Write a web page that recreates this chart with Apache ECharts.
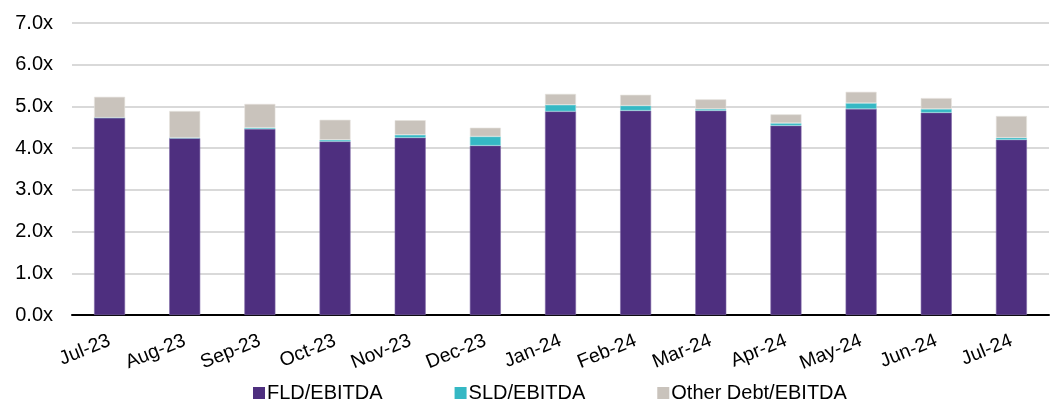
<!DOCTYPE html>
<html><head><meta charset="utf-8">
<script src="https://cdn.jsdelivr.net/npm/echarts@6/dist/echarts.min.js"></script>
<style>html,body{margin:0;padding:0;background:#fff}#c{width:1056px;height:404px}</style>
</head><body><div id="c"></div>
<script>
const categories = ["Jul-23","Aug-23","Sep-23","Oct-23","Nov-23","Dec-23","Jan-24","Feb-24","Mar-24","Apr-24","May-24","Jun-24","Jul-24"];
const fld   = [4.73, 4.24, 4.46, 4.16, 4.25, 4.06, 4.88, 4.90, 4.90, 4.54, 4.94, 4.85, 4.20];
const sld   = [0.00, 0.01, 0.03, 0.04, 0.07, 0.22, 0.16, 0.12, 0.04, 0.06, 0.14, 0.09, 0.05];
const other = [0.50, 0.64, 0.57, 0.48, 0.35, 0.21, 0.26, 0.26, 0.23, 0.21, 0.27, 0.26, 0.52];
const seriesNames = ["FLD/EBITDA", "SLD/EBITDA", "Other Debt/EBITDA"];
const colors = ["#4E2F7F", "#35B8C4", "#C9C3BC"];
const borders = ["#7E66A6", "#8FD6DC", "#E6E2DE"];

const chart = echarts.init(document.getElementById('c'), null, {renderer: 'canvas'});
const font = "Liberation Sans, Arial, sans-serif";
const mk = (name, data, i) => ({
  name, type: 'bar', stack: 'a', data,
  barWidth: 31,
  itemStyle: {color: colors[i], borderColor: borders[i], borderWidth: 0.6},
  emphasis: {disabled: true}
});
chart.setOption({
  animation: false,
  textStyle: {fontFamily: font},
  grid: {left: 72, right: 7, top: 23, bottom: 89, containLabel: false},
  legend: {
    top: 383, left: 253, itemWidth: 12, itemHeight: 12, itemGap: 72, icon: 'rect',
    padding: 0,
    itemStyle: {borderWidth: 0},
    textStyle: {fontSize: 20, color: '#000', fontFamily: font, padding: [0,0,0,-3]},
    data: seriesNames
  },
  xAxis: {
    type: 'category', data: categories,
    axisLine: {lineStyle: {color: '#000', width: 2}},
    axisTick: {show: false},
    axisLabel: {rotate: 22, fontSize: 19.5, color: '#000', margin: 25, fontFamily: font}
  },
  yAxis: {
    type: 'value', min: 0, max: 7, interval: 1,
    axisLabel: {formatter: v => v.toFixed(1) + 'x', fontSize: 20, color: '#000', margin: 19, fontFamily: font},
    splitLine: {lineStyle: {color: '#D9D9D9', width: 2}},
    axisLine: {show: false}, axisTick: {show: false}
  },
  series: [mk(seriesNames[0], fld, 0), mk(seriesNames[1], sld, 1), mk(seriesNames[2], other, 2)]
});
</script></body></html>
